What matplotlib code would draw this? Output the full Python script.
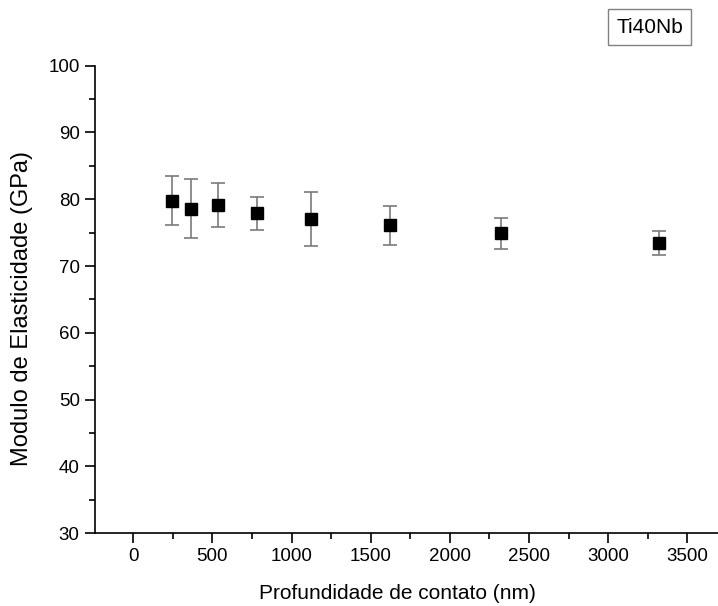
import numpy as np
import matplotlib.pyplot as plt
from matplotlib.ticker import MultipleLocator

plt.rcParams['font.family'] = ['Liberation Sans', 'DejaVu Sans']

# dados
profundidade = [243, 365, 537, 783, 1125, 1622, 2323, 3319]
modulo = [79.8, 78.6, 79.2, 77.9, 77.1, 76.1, 74.9, 73.5]
erro_sup = [83.5, 83.0, 82.4, 80.4, 81.1, 79.0, 77.2, 75.2]
erro_inf = [76.1, 74.2, 75.9, 75.4, 73.0, 73.2, 72.6, 71.7]

modulo = np.array(modulo)
yerr = [modulo - np.array(erro_inf), np.array(erro_sup) - modulo]

fig = plt.figure(figsize=(7.18, 6.06), dpi=100)
ax = fig.add_axes([0.1323, 0.12, 0.8677, 0.7716])

ax.errorbar(profundidade, modulo, yerr=yerr, fmt='s', color='black', markersize=8,
            ecolor='#7a7a7a', elinewidth=1.2, capsize=5, capthick=1.2)

ax.set_xlim(-242, 3694)
ax.set_ylim(30, 100)
ax.xaxis.set_major_locator(MultipleLocator(500))
ax.xaxis.set_minor_locator(MultipleLocator(250))
ax.yaxis.set_major_locator(MultipleLocator(10))
ax.yaxis.set_minor_locator(MultipleLocator(5))
ax.tick_params(which='major', direction='out', length=7, width=1.2, labelsize=13.5)
ax.tick_params(axis='y', pad=4)
ax.tick_params(which='minor', direction='out', length=4, width=1.2)
ax.spines['top'].set_visible(False)
ax.spines['right'].set_visible(False)
ax.spines['left'].set_linewidth(1.2)
ax.spines['bottom'].set_linewidth(1.2)

ax.set_xlabel('Profundidade de contato (nm)', fontsize=15)
ax.set_ylabel('Modulo de Elasticidade (GPa)', fontsize=17)
ax.xaxis.set_label_coords(0.485, -0.109)
ax.yaxis.set_label_coords(-0.1, 0.48)

fig.text(0.905, 0.955, 'Ti40Nb', fontsize=15, ha='center', va='center',
         bbox=dict(boxstyle='square,pad=0.4', fc='white', ec='#808080', lw=1))

fig.savefig('out.png', dpi=100)
